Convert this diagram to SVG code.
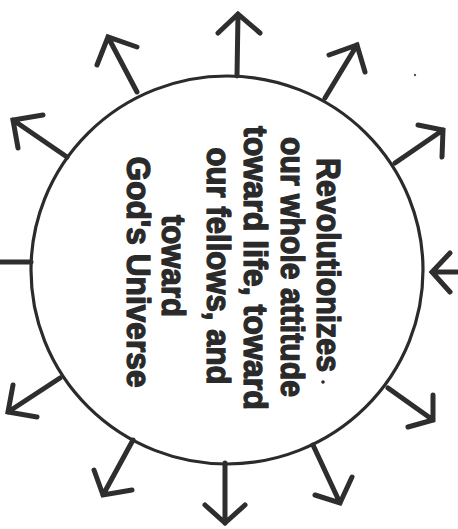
<svg xmlns="http://www.w3.org/2000/svg" width="458" height="529" viewBox="0 0 458 529">
<style>
.bg{fill:#ffffff}
.ring{fill:none;stroke:#2b2b2b;stroke-width:3.2}
.arr{fill:none;stroke:#2e2e2e;stroke-width:5;stroke-linecap:round;stroke-linejoin:miter}
.txt{font-family:"Liberation Sans",Arial,Helvetica,sans-serif;font-weight:bold;font-size:33px;fill:#2a2a2a;stroke:#2a2a2a;stroke-width:1.3;stroke-linejoin:round;text-anchor:middle}
</style>
<rect class="bg" width="458" height="529"/>
<g id="circle-node">
<ellipse class="ring" cx="227" cy="270" rx="196" ry="194"/>
<text class="txt" transform="translate(317,265) rotate(90)" textLength="214" lengthAdjust="spacingAndGlyphs">Revolutionizes</text>
<text class="txt" transform="translate(281,267) rotate(90)" textLength="260" lengthAdjust="spacingAndGlyphs">our whole attitude</text>
<text class="txt" transform="translate(244,268) rotate(90)" textLength="284" lengthAdjust="spacingAndGlyphs">toward life, toward</text>
<text class="txt" transform="translate(207,266) rotate(90)" textLength="237" lengthAdjust="spacingAndGlyphs">our fellows, and</text>
<text class="txt" transform="translate(162,266) rotate(90)" textLength="102" lengthAdjust="spacingAndGlyphs">toward</text>
<text class="txt" transform="translate(127,272) rotate(90)" textLength="231" lengthAdjust="spacingAndGlyphs">God's Universe</text>
<circle cx="323" cy="382" r="1.8" fill="#2a2a2a"/>
<circle cx="415" cy="75" r="1.2" fill="#555"/>
</g>
<g id="connectors">
<!-- top -->
<path class="arr" d="M237,76 L238,14 M218,33 L238,14 L260,33"/>
<!-- upper-left -->
<path class="arr" d="M137,92 L108,37 M97,65 L108,37 L137,47"/>
<!-- upper-right -->
<path class="arr" d="M325,98 L357,45 M329,55 L357,45 L365,72"/>
<!-- right upper -->
<path class="arr" d="M395,163 L443,130 M418,125 L443,130 L442,157"/>
<!-- left upper -->
<path class="arr" d="M67,157 L13,120 M43,115 L13,120 L18,148"/>
<!-- left (no head) -->
<path class="arr" d="M31,262 L-2,262"/>
<!-- right, inward -->
<path class="arr" d="M458,272 L432,272 M450,253 L432,272 L450,292"/>
<!-- lower-left -->
<path class="arr" d="M60,378 L8,412 M13,385 L8,412 L37,417"/>
<!-- bottom-left -->
<path class="arr" d="M133,440 L103,495 M94,470 L103,495 L132,490"/>
<!-- bottom -->
<path class="arr" d="M225,463 L225,523 M205,505 L225,523 L245,505"/>
<!-- bottom-right -->
<path class="arr" d="M313,445 L340,503 M352,477 L340,503 L315,495"/>
<!-- lower-right -->
<path class="arr" d="M388,388 L433,420 M433,395 L433,420 L408,427"/>
</g>
</svg>
